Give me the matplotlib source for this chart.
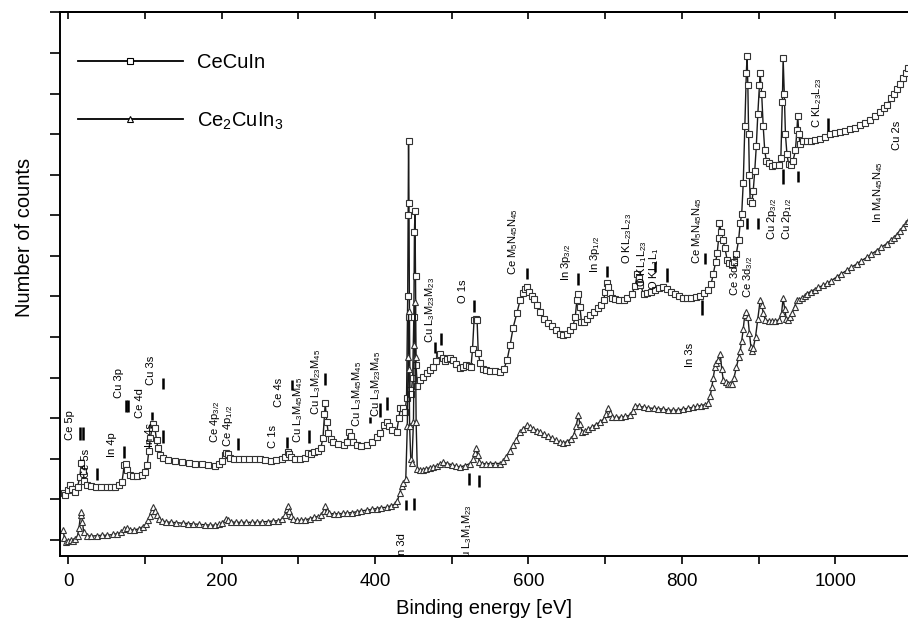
import matplotlib
matplotlib.use('Agg')
import matplotlib.pyplot as plt
from matplotlib.ticker import MultipleLocator, NullFormatter

plt.rcParams['font.family'] = ['Liberation Sans', 'DejaVu Sans']
plt.rcParams['mathtext.default'] = 'regular'

# survey spectra: binding energy [eV] and counts (arb. units)
cecuin_ev = [-6, -4, -1, 2, 5, 9, 12, 15, 17, 19, 21, 24, 30, 36, 43, 50, 56, 61, 66, 70,
             73, 75, 77, 80, 85, 90, 96, 100, 103, 105, 107, 109, 111, 113, 115, 117, 120, 124, 130, 139,
             148, 157, 165, 174, 182, 191, 197, 201, 204, 206, 208, 211, 216, 222, 229, 236, 243, 250, 257, 264,
             271, 278, 283, 286, 288, 291, 296, 302, 308, 312, 316, 320, 325, 329, 332, 334, 335, 337, 339, 342,
             345, 352, 359, 363, 366, 368, 371, 376, 382, 389, 396, 402, 407, 412, 415, 418, 422, 428, 431, 433,
             436, 439, 441, 442.5, 443, 443.6, 444.2, 444.8, 445.5, 447, 449, 450.5, 451.3, 452, 452.7, 453.4, 455, 458, 463, 468,
             472, 476, 480, 483, 485, 488, 491, 494, 498, 502, 506, 511, 515, 518, 522, 525, 527, 529, 531, 533,
             534.5, 537, 541, 545, 550, 556, 563, 568, 572, 576, 580, 585, 589, 593, 596, 598, 601, 604, 607, 611,
             615, 620, 625, 630, 636, 641, 645, 650, 654, 658, 661, 663, 665, 667, 669, 672, 676, 680, 685, 690,
             694, 698, 700, 702, 704, 706, 709, 713, 718, 724, 729, 735, 739, 742, 744, 746, 750, 755, 760, 765,
             770, 776, 781, 786, 791, 796, 802, 807, 812, 818, 824, 829, 834, 838, 841, 844, 846, 848, 849, 851,
             853, 856, 859, 862, 865, 868, 871, 874, 876, 878, 880, 882, 884, 885, 886, 887, 888, 889, 891, 893,
             895, 897, 899, 901, 902, 904, 906, 908, 910, 914, 918, 922, 926, 929, 931, 932, 933.5, 935, 937, 939,
             942, 945, 948, 950, 951, 952.5, 954, 958, 963, 968, 974, 980, 987, 993, 1000, 1006, 1013, 1019, 1026, 1032,
             1039, 1045, 1052, 1058, 1063, 1067, 1072, 1076, 1080, 1084, 1088, 1092, 1095]
cecuin_counts = [1.15, 1.10, 1.22, 1.36, 1.25, 1.17, 1.30, 1.55, 1.90, 1.70, 1.45, 1.34, 1.32, 1.31, 1.30, 1.30, 1.30, 1.31, 1.34, 1.42,
                 1.85, 1.88, 1.72, 1.60, 1.58, 1.57, 1.60, 1.68, 1.85, 2.20, 2.50, 2.75, 2.85, 2.75, 2.45, 2.25, 2.10, 2.02, 1.97, 1.95,
                 1.92, 1.90, 1.88, 1.86, 1.84, 1.83, 1.86, 1.95, 2.10, 2.15, 2.12, 2.02, 1.98, 1.99, 2.00, 1.98, 1.99, 1.98, 1.96, 1.95,
                 1.96, 1.98, 2.03, 2.16, 2.12, 2.04, 1.98, 1.98, 2.01, 2.15, 2.12, 2.16, 2.20, 2.25, 2.50, 3.10, 3.36, 2.90, 2.63, 2.48,
                 2.40, 2.36, 2.33, 2.40, 2.65, 2.55, 2.40, 2.33, 2.32, 2.33, 2.42, 2.53, 2.62, 2.82, 2.90, 2.80, 2.70, 2.65, 3.00, 3.26,
                 3.26, 3.15, 3.50, 6.00, 8.00, 9.84, 8.30, 5.50, 3.70, 3.60, 4.00, 5.50, 7.60, 8.10, 6.50, 4.30, 3.80, 3.93, 4.02, 4.10,
                 4.18, 4.25, 4.40, 4.55, 4.59, 4.48, 4.40, 4.45, 4.48, 4.42, 4.33, 4.23, 4.25, 4.30, 4.28, 4.25, 4.70, 5.41, 5.45, 5.41,
                 4.60, 4.35, 4.22, 4.18, 4.16, 4.15, 4.13, 4.22, 4.42, 4.80, 5.23, 5.60, 5.90, 6.08, 6.18, 6.22, 6.12, 6.02, 5.94, 5.78,
                 5.62, 5.45, 5.35, 5.27, 5.16, 5.08, 5.04, 5.08, 5.16, 5.28, 5.50, 5.90, 6.07, 5.75, 5.38, 5.36, 5.45, 5.53, 5.62, 5.72,
                 5.80, 5.92, 6.10, 6.32, 6.22, 6.08, 5.97, 5.93, 5.90, 5.90, 5.95, 6.07, 6.25, 6.56, 6.45, 6.28, 6.07, 6.08, 6.12, 6.16,
                 6.20, 6.22, 6.18, 6.12, 6.05, 6.00, 5.97, 5.95, 5.95, 5.98, 6.02, 6.08, 6.15, 6.30, 6.56, 6.85, 7.06, 7.45, 7.80, 7.60,
                 7.40, 7.20, 6.90, 6.82, 6.80, 6.85, 7.05, 7.40, 7.80, 8.04, 8.80, 10.20, 11.50, 11.93, 11.20, 10.00, 9.00, 8.36, 8.30, 8.60,
                 9.10, 9.70, 10.50, 11.20, 11.50, 11.00, 10.20, 9.60, 9.35, 9.30, 9.22, 9.25, 9.25, 9.40, 10.80, 11.88, 11.00, 10.00, 9.50, 9.27,
                 9.25, 9.35, 9.60, 10.10, 10.46, 10.00, 9.76, 9.82, 9.84, 9.84, 9.86, 9.88, 9.93, 10.00, 10.02, 10.05, 10.08, 10.12, 10.16, 10.22,
                 10.28, 10.36, 10.45, 10.55, 10.64, 10.72, 10.88, 11.00, 11.12, 11.24, 11.38, 11.52, 11.64]

ce2cuin3_ev = [-7, -5, -3, 0, 3, 6, 9, 12, 14, 16, 17, 18.5, 20, 24, 30, 37, 44, 51, 58, 64,
               69, 73, 76, 80, 86, 92, 97, 101, 104, 107, 109, 111, 113, 115, 118, 122, 127, 134, 141, 149,
               156, 163, 171, 178, 185, 191, 197, 201, 205, 208, 212, 218, 225, 232, 239, 246, 253, 260, 267, 273,
               279, 283, 285, 286, 288, 290, 293, 298, 303, 309, 315, 320, 325, 330, 333, 335, 337, 340, 346, 352,
               358, 364, 370, 376, 382, 389, 396, 402, 408, 415, 421, 426, 429, 432, 435, 437, 440, 442, 443, 443.6,
               444.3, 445, 446.5, 448, 450, 451, 452, 452.8, 453.5, 455, 458, 462, 466, 471, 476, 481, 485, 489, 494, 500,
               505, 511, 517, 524, 528, 530, 532, 534, 536, 540, 545, 550, 556, 563, 567, 571, 576, 580, 584, 589,
               593, 598, 602, 606, 611, 615, 620, 625, 630, 636, 641, 645, 650, 655, 659, 662, 665, 667, 670, 674,
               678, 683, 688, 693, 698, 701, 704, 706, 709, 714, 720, 726, 732, 736, 739, 744, 750, 756, 763, 769,
               776, 782, 789, 795, 802, 808, 815, 820, 825, 830, 834, 837, 839, 841, 843, 845, 847, 850, 852, 854,
               857, 860, 863, 865, 868, 871, 874, 876, 878, 880, 882, 884, 886, 888, 890, 891, 893, 896, 899, 902,
               904, 906, 909, 913, 917, 922, 927, 930, 932, 934, 936, 938, 941, 944, 947, 950, 953, 956, 960, 963,
               968, 973, 978, 984, 989, 995, 1002, 1008, 1015, 1021, 1028, 1034, 1041, 1047, 1054, 1060, 1067, 1072, 1076, 1080,
               1084, 1088, 1092, 1095]
ce2cuin3_counts = [0.25, 0.05, -0.06, -0.04, 0.00, -0.02, 0.02, 0.10, 0.30, 0.62, 0.68, 0.45, 0.18, 0.10, 0.09, 0.10, 0.11, 0.11, 0.13, 0.15,
                   0.18, 0.26, 0.28, 0.25, 0.24, 0.27, 0.32, 0.38, 0.48, 0.58, 0.70, 0.80, 0.72, 0.60, 0.52, 0.47, 0.44, 0.43, 0.42, 0.41,
                   0.40, 0.39, 0.38, 0.37, 0.36, 0.36, 0.38, 0.42, 0.50, 0.48, 0.44, 0.43, 0.43, 0.43, 0.43, 0.43, 0.44, 0.45, 0.46, 0.47,
                   0.50, 0.60, 0.75, 0.82, 0.70, 0.58, 0.50, 0.48, 0.48, 0.49, 0.52, 0.55, 0.57, 0.60, 0.72, 0.82, 0.72, 0.65, 0.64, 0.64,
                   0.65, 0.66, 0.67, 0.69, 0.71, 0.73, 0.75, 0.77, 0.79, 0.80, 0.84, 0.88, 0.95, 1.15, 1.32, 1.39, 1.50, 2.80, 4.50, 5.65,
                   4.20, 2.80, 2.00, 1.90, 2.90, 4.80, 5.85, 4.50, 2.90, 1.75, 1.71, 1.73, 1.75, 1.77, 1.79, 1.83, 1.88, 1.91, 1.88, 1.85,
                   1.82, 1.79, 1.83, 1.88, 1.98, 2.15, 2.25, 2.10, 1.92, 1.88, 1.87, 1.88, 1.88, 1.88, 1.93, 2.05, 2.20, 2.33, 2.47, 2.65,
                   2.74, 2.82, 2.78, 2.74, 2.69, 2.65, 2.60, 2.55, 2.51, 2.45, 2.40, 2.38, 2.42, 2.48, 2.58, 2.80, 3.07, 2.85, 2.65, 2.68,
                   2.72, 2.78, 2.84, 2.90, 2.98, 3.10, 3.26, 3.12, 3.02, 3.02, 3.02, 3.04, 3.07, 3.18, 3.31, 3.29, 3.27, 3.25, 3.24, 3.23,
                   3.22, 3.20, 3.19, 3.20, 3.22, 3.24, 3.27, 3.29, 3.31, 3.33, 3.36, 3.55, 3.76, 4.00, 4.25, 4.35, 4.42, 4.59, 4.20, 3.93,
                   3.88, 3.85, 3.83, 3.85, 4.00, 4.25, 4.50, 4.66, 4.90, 5.20, 5.55, 5.62, 5.50, 5.10, 4.75, 4.66, 4.72, 5.00, 5.45, 5.90,
                   5.80, 5.60, 5.41, 5.40, 5.40, 5.40, 5.42, 5.60, 5.95, 5.70, 5.45, 5.42, 5.50, 5.60, 5.75, 5.90, 5.92, 5.95, 6.02, 6.07,
                   6.12, 6.17, 6.22, 6.27, 6.32, 6.39, 6.48, 6.56, 6.64, 6.72, 6.80, 6.88, 6.96, 7.04, 7.13, 7.21, 7.30, 7.38, 7.45, 7.52,
                   7.62, 7.70, 7.80, 7.87]

# peak assignments (text, energy of the label, bottom of the label)
peak_labels = ['Ce 5p', 'Ce 5s', 'In 4p', 'Cu 3p', 'Ce 4d', 'In 4s', 'Cu 3s',
               'Ce 4p$_{3/2}$', 'Ce 4p$_{1/2}$', 'C 1s', 'Ce 4s',
               'Cu L$_3$M$_{45}$M$_{45}$', 'Cu L$_3$M$_{23}$M$_{45}$',
               'Cu L$_3$M$_{45}$M$_{45}$', 'Cu L$_3$M$_{23}$M$_{45}$',
               'In 3d', 'Cu L$_3$M$_1$M$_{23}$', 'Cu L$_3$M$_{23}$M$_{23}$', 'O 1s',
               'Ce M$_5$N$_{45}$N$_{45}$', 'In 3p$_{3/2}$', 'In 3p$_{1/2}$',
               'O KL$_{23}$L$_{23}$', 'O KL$_1$L$_{23}$', 'O KL$_1$L$_1$',
               'Ce M$_5$N$_{45}$N$_{45}$', 'In 3s', 'Ce 3d$_{5/2}$', 'Ce 3d$_{3/2}$',
               'Cu 2p$_{3/2}$', 'Cu 2p$_{1/2}$', 'C KL$_{23}$L$_{23}$',
               'In M$_4$N$_{45}$N$_{45}$', 'Cu 2s']
peak_label_ev = [2.2, 23.1, 57.0, 66.1, 93.5, 106.5, 107.8,
                 191.3, 208.2, 266.9, 274.7,
                 299.5, 323.4,
                 376.4, 401.2,
                 435.0, 519.8, 471.5, 514.6,
                 579.8, 648.9, 686.7,
                 728.5, 748.0, 763.6,
                 819.7, 810.6, 869.2, 886.2,
                 917.5, 937.1, 976.1,
                 1055.7, 1080.5]
peak_label_y = [2.45, 1.52, 2.05, 3.49, 3.00, 2.28, 3.81,
                2.38, 2.28, 2.26, 3.27,
                2.38, 3.07,
                2.77, 3.02,
                -0.45, -0.65, 4.86, 5.83,
                6.52, 6.39, 6.57,
                6.81, 6.22, 6.15,
                6.81, 4.25, 6.02, 5.95,
                7.38, 7.38, 10.14,
                7.82, 9.60]

# short vertical bars marking the peak positions
bar_ev = [15.3, 19.2, 37.4, 72.6, 74.6, 77.2, 109.1, 123.5, 123.5, 221.3,
          285.2, 291.6, 313.8, 334.7, 393.4, 406.4, 415.5, 440.3, 450.7, 478.1,
          485.9, 522.4, 535.5, 529.0, 598.0, 664.5, 702.4, 765.0, 780.6, 830.0,
          826.0, 884.9, 899.2, 931.9, 951.4, 990.5]
bar_lo = [2.45, 2.45, 1.47, 2.01, 3.14, 3.14, 2.95, 3.71, 2.38, 2.21,
          2.26, 3.68, 2.38, 3.81, 2.87, 3.02, 3.19, 0.73, 0.73, 4.60,
          4.80, 1.34, 1.30, 5.61, 6.44, 6.27, 6.47, 6.59, 6.35, 6.81,
          5.53, 7.67, 7.67, 8.78, 8.82, 10.09]
bar_hi = [2.77, 2.77, 1.76, 2.31, 3.44, 3.44, 3.14, 4.00, 2.70, 2.50,
          2.53, 3.93, 2.70, 4.10, 3.02, 3.36, 3.51, 0.98, 1.03, 4.87,
          5.09, 1.64, 1.59, 5.90, 6.71, 6.57, 6.76, 6.84, 6.69, 7.06,
          5.90, 7.94, 7.94, 9.14, 9.09, 10.41]

fig = plt.figure(figsize=(9.08, 6.21), dpi=100)
ax = fig.add_axes([0.0661, 0.1047, 0.9339, 0.8752])

# spectra
ax.plot(cecuin_ev, cecuin_counts, color='#1a1a1a', lw=1.0, marker='s', ms=4.3,
        mfc='white', mec='#333333', mew=0.8, label='CeCuIn')
ax.plot(ce2cuin3_ev, ce2cuin3_counts, color='#1a1a1a', lw=1.0, marker='^', ms=4.3,
        mfc='white', mec='#333333', mew=0.8, label='Ce$_2$CuIn$_3$')

# peak markers and labels
ax.vlines(bar_ev, bar_lo, bar_hi, color='black', lw=1.8)
for txt, xv, yv in zip(peak_labels, peak_label_ev, peak_label_y):
    ax.text(xv, yv, txt, rotation=90, ha='center', va='bottom', fontsize=8, clip_on=True)

ax.set_xlim(-10.8, 1094.8)
ax.set_ylim(-0.4, 13.0)

ax.xaxis.set_major_locator(MultipleLocator(200))
ax.xaxis.set_minor_locator(MultipleLocator(100))
ax.yaxis.set_major_locator(MultipleLocator(1))
ax.yaxis.set_major_formatter(NullFormatter())
ax.tick_params(axis='x', which='both', direction='out', length=6, width=1.2, labelsize=13.5, pad=6)
ax.tick_params(axis='y', which='major', direction='out', length=7, width=1.2)

# top axis has inward ticks every 100 eV
top = ax.secondary_xaxis('top')
top.xaxis.set_major_locator(MultipleLocator(100))
top.tick_params(direction='in', length=5, width=1.2, labeltop=False)
top.spines['top'].set_linewidth(1.4)

for side in ['left', 'bottom', 'top']:
    ax.spines[side].set_linewidth(1.4)
ax.spines['right'].set_visible(False)

ax.set_xlabel('Binding energy [eV]', fontsize=14.5, labelpad=7)
ax.set_ylabel('Number of counts', fontsize=14.5)
ax.yaxis.set_label_coords(-0.031, 0.587)

leg = ax.legend(loc='upper left', bbox_to_anchor=(0.021, 0.925), frameon=False,
                fontsize=14.5, handlelength=5.2, handletextpad=0.7, labelspacing=1.9,
                numpoints=1, borderpad=0, borderaxespad=0)
for h in leg.legend_handles:
    h.set_color('black')
    h.set_linewidth(1.3)
    h.set_markeredgecolor('black')

fig.savefig('out.png', dpi=100)
